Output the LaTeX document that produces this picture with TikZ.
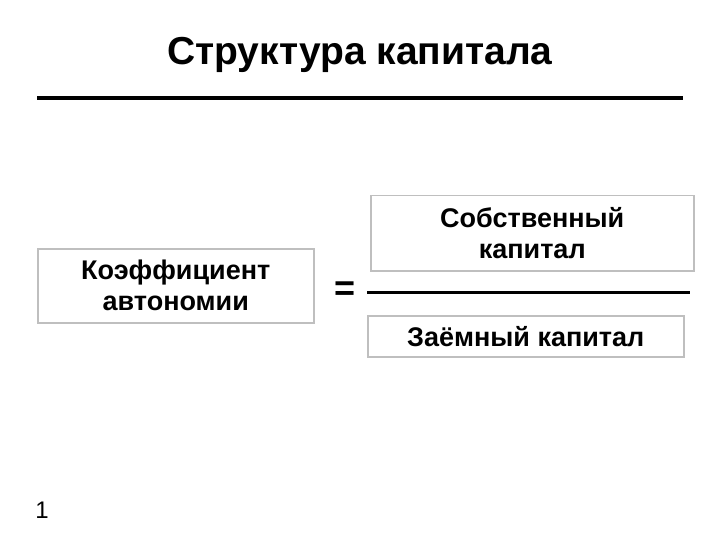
\documentclass[tikz,border=0pt]{standalone}
\usepackage{fontspec}
\setmainfont{Liberation Sans}
\begin{document}
\begin{tikzpicture}[x=1pt,y=-1pt,
  bx/.style={draw=black!25,line width=1.5pt,align=center,font=\fontsize{27}{31}\selectfont\bfseries,anchor=north west,inner sep=0pt}]
\useasboundingbox (0,0) rectangle (720,540);
\node (title) at (360,55) {\fontsize{39}{44}\selectfont\bfseries Структура капитала};
\coordinate (l1) at (37,98); \coordinate (l2) at (683,98);
\draw[line width=3.5pt] (l1) -- (l2);
\node[bx,minimum width=276pt,minimum height=74pt] (k) at (37,248) {Коэффициент\\автономии};
\node (eq) at (345,291) {\fontsize{36}{36}\selectfont\bfseries =};
\node[bx,minimum width=323pt,minimum height=75pt] (s) at (370,195) {Собственный\\капитал};
\coordinate (f1) at (367,292); \coordinate (f2) at (690,292);
\draw[line width=3pt] (f1) -- (f2);
\node[bx,minimum width=316pt,minimum height=41pt] (z) at (367,315) {Заёмный капитал};
\node (n) at (42,510) {\fontsize{24}{28}\selectfont 1};
\end{tikzpicture}
\end{document}
